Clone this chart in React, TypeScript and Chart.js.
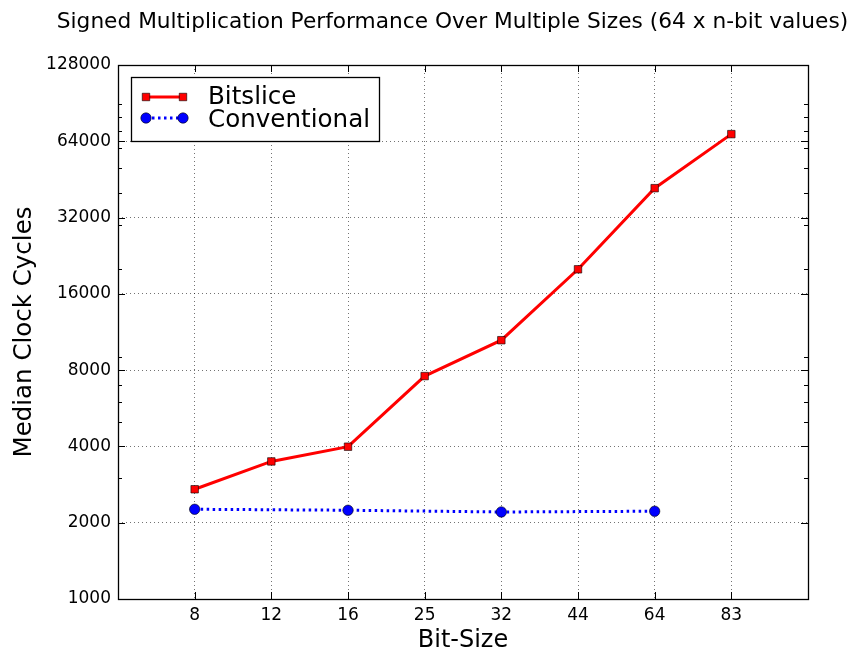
import React, { useEffect, useRef } from 'react';
import { Chart, registerables } from 'chart.js';

Chart.register(...registerables);

const chartTitle = 'Signed Multiplication Performance Over Multiple Sizes (64 x n-bit values)';
const xAxisTitle = 'Bit-Size';
const yAxisTitle = 'Median Clock Cycles';

const bitSizes = ['8', '12', '16', '25', '32', '44', '64', '83'];
const bitsliceCycles = [2710, 3490, 3990, 7580, 10500, 20000, 41800, 68300];
const conventionalCycles: (number | null)[] = [2260, null, 2240, null, 2205, null, 2220, null];

const yMajorTicks = [1000, 2000, 4000, 8000, 16000, 32000, 64000, 128000];
const yMinorTicks = [3000, 5000, 6000, 7000, 9000, 20000, 30000, 40000, 50000, 60000, 70000, 80000, 90000];

const FONT = '"DejaVu Sans", "Liberation Sans", sans-serif';

const toPoints = (vals: (number | null)[]) =>
  vals
    .map((v, i) => (v == null ? null : { x: i + 1, y: v }))
    .filter((p) => p !== null) as { x: number; y: number }[];

const decorPlugin = {
  id: 'decor',
  afterDraw(chart: any) {
    const { ctx, chartArea } = chart;
    const { left, right, top, bottom } = chartArea;
    const xs = chart.scales.x;
    const ys = chart.scales.y;
    ctx.save();
    ctx.strokeStyle = '#000';
    ctx.lineWidth = 1;
    ctx.setLineDash([]);
    const major = 7;
    const minor = 4;
    ctx.beginPath();
    for (const v of yMajorTicks) {
      const py = Math.round(ys.getPixelForValue(v)) + 0.5;
      ctx.moveTo(left, py);
      ctx.lineTo(left + major, py);
      ctx.moveTo(right, py);
      ctx.lineTo(right - major, py);
    }
    for (const v of yMinorTicks) {
      const py = Math.round(ys.getPixelForValue(v)) + 0.5;
      ctx.moveTo(left, py);
      ctx.lineTo(left + minor, py);
      ctx.moveTo(right, py);
      ctx.lineTo(right - minor, py);
    }
    bitSizes.forEach((_, i) => {
      const px = Math.round(xs.getPixelForValue(i + 1)) + 0.5;
      ctx.moveTo(px, bottom);
      ctx.lineTo(px, bottom - major);
      ctx.moveTo(px, top);
      ctx.lineTo(px, top + major);
    });
    ctx.stroke();

    // frame
    ctx.lineWidth = 1.3;
    ctx.strokeRect(Math.round(left) + 0.5, Math.round(top) + 0.5, Math.round(right - left), Math.round(bottom - top));

    // title
    ctx.fillStyle = '#000';
    ctx.font = `21.7px ${FONT}`;
    ctx.textAlign = 'center';
    ctx.textBaseline = 'alphabetic';
    ctx.fillText(chartTitle, 452.5, 28);

    // legend
    const lx = 131, ly = 77, lw = 248, lh = 64;
    ctx.fillStyle = '#fff';
    ctx.fillRect(lx, ly, lw, lh);
    ctx.lineWidth = 1.3;
    ctx.strokeStyle = '#000';
    ctx.strokeRect(lx + 0.5, ly + 0.5, lw, lh);
    const rows = [
      { ds: chart.data.datasets[0], y: 97, base: 104 },
      { ds: chart.data.datasets[1], y: 118, base: 127 },
    ];
    const sx0 = 146, sx1 = 183;
    for (const r of rows) {
      const ds = r.ds;
      ctx.save();
      ctx.strokeStyle = ds.borderColor;
      ctx.lineWidth = ds.borderWidth;
      ctx.setLineDash(ds.borderDash || []);
      ctx.beginPath();
      ctx.moveTo(sx0, r.y);
      ctx.lineTo(sx1, r.y);
      ctx.stroke();
      ctx.setLineDash([]);
      ctx.fillStyle = ds.pointBackgroundColor;
      ctx.strokeStyle = ds.pointBorderColor;
      ctx.lineWidth = ds.pointBorderWidth;
      for (const px of [sx0, sx1]) {
        ctx.beginPath();
        if (ds.pointStyle === 'rect') {
          const s = Math.SQRT1_2 * ds.pointRadius;
          ctx.rect(px - s, r.y - s, 2 * s, 2 * s);
        } else {
          ctx.arc(px, r.y, ds.pointRadius, 0, Math.PI * 2);
        }
        ctx.fill();
        ctx.stroke();
      }
      ctx.restore();
      ctx.fillStyle = '#000';
      ctx.font = `24.6px ${FONT}`;
      ctx.textAlign = 'left';
      ctx.textBaseline = 'alphabetic';
      ctx.fillText(ds.label, 208, r.base);
    }
    ctx.restore();
  },
};

export default function App() {
  const canvasRef = useRef<HTMLCanvasElement | null>(null);

  useEffect(() => {
    if (!canvasRef.current) return;
    Chart.defaults.font.family = FONT;
    Chart.defaults.color = '#000';
    const chart = new Chart(canvasRef.current, {
      type: 'line',
      data: {
        datasets: [
          {
            label: 'Bitslice',
            data: toPoints(bitsliceCycles),
            borderColor: '#ff0000',
            backgroundColor: '#ff0000',
            borderWidth: 3,
            pointStyle: 'rect',
            pointRadius: 5.3,
            pointBackgroundColor: '#ff0000',
            pointBorderColor: '#000000',
            pointBorderWidth: 0.6,
            tension: 0,
          } as any,
          {
            label: 'Conventional',
            data: toPoints(conventionalCycles),
            borderColor: '#0000ff',
            backgroundColor: '#0000ff',
            borderWidth: 3,
            borderDash: [2.5, 3.5],
            pointStyle: 'circle',
            pointRadius: 5.2,
            pointBackgroundColor: '#0000ff',
            pointBorderColor: '#000000',
            pointBorderWidth: 0.6,
            tension: 0,
          } as any,
        ],
      },
      options: {
        animation: false,
        responsive: false,
        events: [],
        layout: { padding: { left: 0, right: 44, top: 65, bottom: 0 } },
        plugins: {
          legend: { display: false },
          title: { display: false },
          tooltip: { enabled: false },
        },
        scales: {
          x: {
            type: 'linear',
            min: 0,
            max: 9,
            afterBuildTicks: (scale: any) => {
              scale.ticks = bitSizes.map((_, i) => ({ value: i + 1 }));
            },
            afterFit: (scale: any) => {
              scale.height = 58;
            },
            ticks: {
              callback: (v: any) => bitSizes[Number(v) - 1] ?? '',
              font: { size: 17 },
              color: '#000',
              padding: 6,
              maxRotation: 0,
              autoSkip: false,
            },
            grid: { color: 'rgba(0,0,0,0.55)', lineWidth: 1, drawTicks: false },
            border: { display: false, dash: [1, 3] },
            title: {
              display: true,
              text: xAxisTitle,
              font: { size: 24 },
              color: '#000',
              padding: { top: 0, bottom: 2 },
            },
          },
          y: {
            type: 'logarithmic',
            min: 1000,
            max: 128000,
            afterBuildTicks: (scale: any) => {
              scale.ticks = yMajorTicks.map((v) => ({ value: v, major: false }));
            },
            afterFit: (scale: any) => {
              scale.width = 118;
            },
            ticks: {
              callback: (v: any) => String(v),
              font: { size: 17 },
              color: '#000',
              padding: 7,
              autoSkip: false,
            },
            grid: { color: 'rgba(0,0,0,0.55)', lineWidth: 1, drawTicks: false },
            border: { display: false, dash: [1, 3] },
            title: {
              display: true,
              text: yAxisTitle,
              font: { size: 24.5 },
              color: '#000',
              padding: { top: 10, bottom: 0 },
            },
          },
        },
      } as any,
      plugins: [decorPlugin],
    });
    return () => chart.destroy();
  }, []);

  return (
    <div style={{ position: 'fixed', left: 0, top: 0, width: 852, height: 657, background: '#fff' }}>
      <canvas ref={canvasRef} width={852} height={657} style={{ display: 'block' }} />
    </div>
  );
}
